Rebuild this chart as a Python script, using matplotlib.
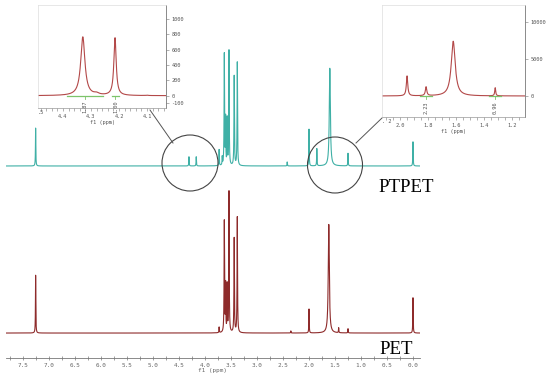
import numpy as np
import matplotlib
matplotlib.use("Agg")
import matplotlib.pyplot as plt
from matplotlib.patches import Ellipse
from matplotlib.lines import Line2D
from matplotlib.ticker import MultipleLocator

# peak lists (shift in ppm, relative intensity, half width)
ptpet_shift = [7.26, 4.31, 4.17, 3.73, 3.67, 3.63, 3.605, 3.575, 3.54, 3.44, 3.38, 2.42, 2.00, 1.85, 1.60, 1.25, 0.00]
ptpet_int = [33, 8, 8, 14, 7, 97, 40, 40, 100, 78, 90, 3.5, 32, 15, 85, 11, 21]
ptpet_hw = [0.004, 0.004, 0.004, 0.004, 0.004, 0.005, 0.004, 0.004, 0.005, 0.005, 0.005, 0.004, 0.004, 0.004, 0.012, 0.004, 0.004]

pet_shift = [7.26, 3.73, 3.63, 3.605, 3.575, 3.54, 3.44, 3.38, 2.35, 2.00, 1.62, 1.43, 1.25, 0.00]
pet_int = [41, 4, 79, 33, 33, 100, 67, 82, 1.5, 17, 77, 3.5, 3, 25]
pet_hw = [0.004, 0.004, 0.005, 0.004, 0.004, 0.005, 0.005, 0.005, 0.004, 0.004, 0.012, 0.004, 0.004, 0.004]

# zoomed insets
ins1_shift = [4.329, 4.28, 4.214, 4.10]
ins1_int = [764, 20, 750, 5]
ins1_hw = [0.009, 0.01, 0.005, 0.004]
ins1_ranges = [(4.386, 4.257), (4.225, 4.200)]
ins1_labels = ["1.87", "1.00"]

ins2_shift = [1.95, 1.814, 1.62, 1.32]
ins2_int = [2700, 1200, 7400, 1100]
ins2_hw = [0.006, 0.006, 0.017, 0.004]
ins2_ranges = [(1.857, 1.771), (1.364, 1.279)]
ins2_labels = ["2.23", "0.96"]

main_ticks = [7.5, 7.0, 6.5, 6.0, 5.5, 5.0, 4.5, 4.0, 3.5, 3.0, 2.5, 2.0, 1.5, 1.0, 0.5, 0.0]


def spectrum(x, shifts, ints, hws):
    y = np.zeros_like(x)
    for c, h, g in zip(shifts, ints, hws):
        y += h / (1 + ((x - c) / g) ** 2)
    return y


W, H = 550, 381
fig = plt.figure(figsize=(5.5, 3.81), dpi=100)


def add_ax(l, t, r, b, **kw):
    return fig.add_axes([l / W, 1 - b / H, (r - l) / W, (b - t) / H], **kw)


teal = "#3fb0a6"
maroon = "#8e2b2b"
tick_font = dict(family="DejaVu Sans Mono", size=4.3, color="#666666")

# ---- PET (bottom) ----
ax_b = add_ax(6, 180, 420, 358)
x = np.linspace(7.83, -0.135, 20000)
ax_b.plot(x, spectrum(x, pet_shift, pet_int, pet_hw), color=maroon, lw=0.8)
ax_b.set_xlim(7.83, -0.135)
ax_b.set_ylim(-17.7, 108.5)
for s in ["top", "left", "right"]:
    ax_b.spines[s].set_visible(False)
ax_b.spines["bottom"].set_color("#777777")
ax_b.spines["bottom"].set_linewidth(0.6)
ax_b.set_yticks([])
ax_b.set_xticks(main_ticks)
ax_b.set_xticklabels([f"{t:.1f}" for t in main_ticks], **tick_font)
ax_b.xaxis.set_minor_locator(MultipleLocator(0.25))
ax_b.tick_params(axis="x", which="both", direction="inout", length=3, width=0.5, color="#777777", pad=2)
ax_b.set_xlabel("f1 (ppm)", fontdict=tick_font, labelpad=0)

# ---- PTPET (top) ----
ax_t = add_ax(6, 20, 420, 190)
ax_t.plot(x, spectrum(x, ptpet_shift, ptpet_int, ptpet_hw), color=teal, lw=0.8)
ax_t.set_xlim(7.83, -0.135)
ax_t.set_ylim(-20.9, 127)
ax_t.axis("off")

# ---- overlay for circles, connectors and names ----
ov = add_ax(0, 0, W, H)
ov.set_xlim(0, W)
ov.set_ylim(H, 0)
ov.axis("off")
ov.patch.set_alpha(0)
ov.add_patch(Ellipse((190, 163), 56, 56, fill=False, ec="#444444", lw=0.8))
ov.add_patch(Ellipse((335, 165), 55, 56, fill=False, ec="#444444", lw=0.8))
ov.add_line(Line2D([150, 173], [110, 143], color="#555555", lw=0.7))
ov.add_line(Line2D([356, 382], [143, 118], color="#555555", lw=0.7))
ov.text(406, 187, "PTPET", family="Liberation Serif", size=13.5, ha="center", va="center")
ov.text(396, 350, "PET", family="Liberation Serif", size=13.5, ha="center", va="center")

inset_red = "#b34848"
green = "#7cc46a"
small = dict(family="DejaVu Sans Mono", size=3.8, color="#555555")


def inset(l, t, r, b, xl, yl, shifts, ints, hws, ranges, labels, yt, xt, cut):
    ax = add_ax(l, t, r, b)
    xi = np.linspace(xl[0], xl[1], 4000)
    ax.plot(xi, spectrum(xi, shifts, ints, hws), color=inset_red, lw=0.8)
    ax.set_xlim(*xl)
    ax.set_ylim(*yl)
    span = yl[1] - yl[0]
    for (a, c), lab in zip(ranges, labels):
        ax.plot([a, c], [0, 0], color=green, lw=0.9)
        m = (a + c) / 2
        ax.plot([m, m], [0, -0.03 * span], color=green, lw=0.6)
        ax.text(m, -0.05 * span, lab, rotation=90, ha="center", va="top", **small)
    for s in ["top", "left"]:
        ax.spines[s].set_color("#dddddd")
        ax.spines[s].set_linewidth(0.5)
    ax.spines["right"].set_color("#777777")
    ax.spines["right"].set_linewidth(0.6)
    ax.spines["bottom"].set_color("#999999")
    ax.spines["bottom"].set_linewidth(0.5)
    ax.yaxis.tick_right()
    ax.set_yticks(yt)
    ax.set_yticklabels([str(v) for v in yt], **small)
    ax.set_xticks(xt)
    ax.set_xticklabels([f"{v:.1f}" for v in xt], **small)
    ax.xaxis.set_minor_locator(MultipleLocator(0.02 if xt[0] > 3 else 0.05))
    ax.tick_params(which="both", length=2, width=0.4, color="#777777", pad=2)
    ax.text(xl[0], -0.02, cut, transform=ax.get_xaxis_transform(), ha="left", va="top", **small)
    ax.set_xlabel("f1 (ppm)", fontdict=small, labelpad=1)
    return ax


inset(38, 5, 166, 108, (4.489, 4.032), (-160, 1180), ins1_shift, ins1_int, ins1_hw,
      ins1_ranges, ins1_labels, [-100, 0, 200, 400, 600, 800, 1000], [4.4, 4.3, 4.2, 4.1], ".5")
inset(382, 5, 525, 117, (2.129, 1.107), (-2840, 12300), ins2_shift, ins2_int, ins2_hw,
      ins2_ranges, ins2_labels, [0, 5000, 10000], [2.0, 1.8, 1.6, 1.4, 1.2], ". 2")

fig.savefig("out.png", dpi=100)
